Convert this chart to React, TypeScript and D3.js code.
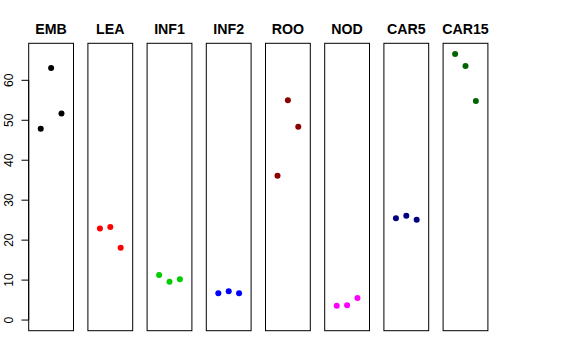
import React from "react";
import * as d3 from "d3";

const categories = ["EMB", "LEA", "INF1", "INF2", "ROO", "NOD", "CAR5", "CAR15"];
const colors = ["#000000", "#FF0000", "#00CD00", "#0000FF", "#8B0000", "#FF00FF", "#000080", "#006400"];
const values: number[][] = [
  [47.9, 63.1, 51.7],
  [22.9, 23.3, 18.1],
  [11.3, 9.6, 10.2],
  [6.7, 7.2, 6.7],
  [36.1, 55.0, 48.4],
  [3.6, 3.7, 5.5],
  [25.5, 26.1, 25.1],
  [66.6, 63.6, 54.8],
];
const yTicks = [0, 10, 20, 30, 40, 50, 60];

const W = 576;
const H = 360;
const panelTop = 43.3;
const panelBottom = 330.7;
const panelW = 44.8;

export default function App() {
  const yMin = 0;
  const yMax = d3.max(values.flat()) as number;
  const pad = (yMax - yMin) * 0.04;
  const y = d3.scaleLinear().domain([yMin - pad, yMax + pad]).range([panelBottom, panelTop]);
  const panelX = d3.scaleLinear().domain([0, 1]).range([28.7, 87.9]);
  const x = d3.scaleLinear().domain([-0.16, 4.16]).range([0, panelW]);
  const axisX = panelX(0);

  return (
    <svg
      width={W}
      height={H}
      style={{ position: "absolute", left: 0, top: 0, background: "#fff" }}
      fontFamily="'Liberation Sans', Arial, Helvetica, sans-serif"
    >
      <rect width={W} height={H} fill="#fff" />
      {categories.map((c, i) => {
        const x0 = panelX(i);
        return (
          <g key={c}>
            <rect
              x={x0}
              y={panelTop}
              width={panelW}
              height={panelBottom - panelTop}
              fill="none"
              stroke="#000"
              strokeWidth={1}
            />
            <text
              x={x0 + panelW / 2}
              y={34.3}
              textAnchor="middle"
              fontWeight="bold"
              fontSize={14.2}
              fill="#000"
            >
              {c}
            </text>
            {values[i].map((v, j) => (
              <circle key={j} cx={x0 + x(j + 1)} cy={y(v)} r={3} fill={colors[i]} />
            ))}
          </g>
        );
      })}
      <line x1={axisX} x2={axisX} y1={y(0)} y2={y(60)} stroke="#000" />
      {yTicks.map((t) => (
        <g key={t}>
          <line x1={axisX - 7.2} x2={axisX} y1={y(t)} y2={y(t)} stroke="#000" />
          <text
            x={12.7}
            y={y(t)}
            transform={`rotate(-90 12.7 ${y(t)})`}
            textAnchor="middle"
            fontSize={12}
            fill="#000"
          >
            {t}
          </text>
        </g>
      ))}
    </svg>
  );
}
